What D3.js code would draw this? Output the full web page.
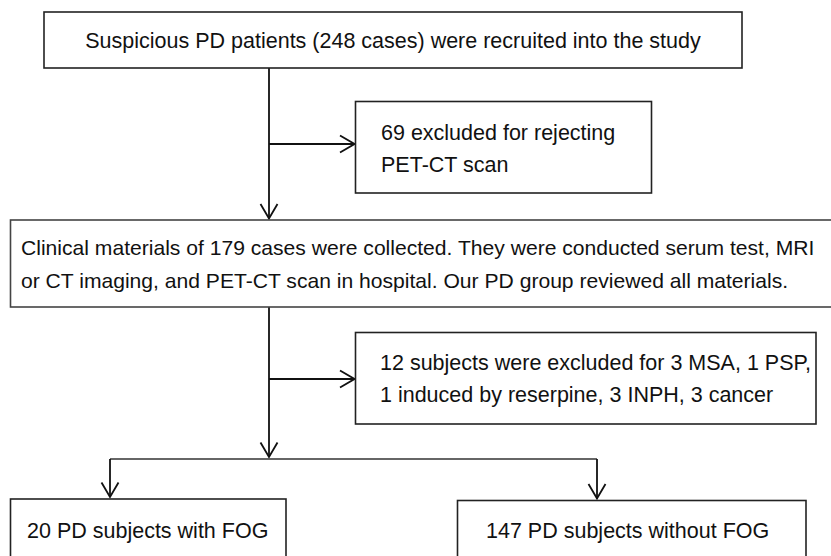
<!DOCTYPE html>
<html>
<head>
<meta charset="utf-8">
<script src="https://cdn.jsdelivr.net/npm/d3@7"></script>
<style>
  html, body { margin: 0; padding: 0; background: #fff; }
  svg { display: block; }
</style>
</head>
<body>
<svg id="chart" width="831" height="556"></svg>
<script>
// flowchart text
const stepTexts = [
    ["Suspicious PD patients (248 cases) were recruited into the study"],
    ["Clinical materials of 179 cases were collected. They were conducted serum test, MRI",
     "or CT imaging, and PET-CT scan in hospital. Our PD group reviewed all materials."]
]
const excludeTexts = [
    ["69 excluded for rejecting", "PET-CT scan"],
    ["12 subjects were excluded for 3 MSA, 1 PSP,", "1 induced by reserpine, 3 INPH, 3 cancer"]
]
const groupTexts = ["20 PD subjects with FOG", "147 PD subjects without FOG"]
const caseCounts = [248, 69, 179, 12, 20, 147]

// layout (pixels)
const FONT = "'Liberation Sans', Arial, sans-serif"
const FS = 21.5
const LINE_H = 32.5
const mainX = 269

const stepBoxes = [
    { x: 44, y: 12, w: 698, h: 56, anchor: 'middle', tx: 393, ty: 40, stroke: '#222', fs: 21.5 },
    { x: 10.5, y: 220, w: 840, h: 87, anchor: 'start', tx: 21, ty: 248, stroke: '#444', fs: 21.1 }
]
const excludeBoxes = [
    { x: 355.5, y: 101.5, w: 296, h: 91.5, tx: 381, ty: 132, arrowY: 144 },
    { x: 355.5, y: 332.5, w: 460.5, h: 91.5, tx: 380, ty: 362, arrowY: 379 }
]
const groupBoxes = [
    { x: 10.5, y: 499, w: 275.5, h: 75, tx: 27, ty: 530, cx: 110 },
    { x: 457.5, y: 500.5, w: 348.5, h: 75, tx: 486, ty: 530, cx: 597 }
]
const splitY = 459

const svg = d3.select('#chart')

// 箭头
svg.append('defs').append('marker')
    .attr('id', 'arrow')
    .attr('markerUnits', 'userSpaceOnUse')
    .attr('viewBox', '-1 -10 17 20')
    .attr('refX', 14.5)
    .attr('refY', 0)
    .attr('markerWidth', 17)
    .attr('markerHeight', 20)
    .attr('orient', 'auto')
    .append('path')
    .attr('d', 'M0,-8.5L14.5,0L0,8.5')
    .attr('fill', 'none')
    .attr('stroke', '#111')
    .attr('stroke-width', 1.8)

const line = d3.line()

const drawArrow = (pts, color, width, marker = true) => svg.append('path')
    .attr('d', line(pts))
    .attr('fill', 'none')
    .attr('stroke', color || '#111')
    .attr('stroke-width', width || 1.8)
    .attr('marker-end', marker ? 'url(#arrow)' : null)

// connectors
drawArrow([[mainX, stepBoxes[0].y + stepBoxes[0].h], [mainX, stepBoxes[1].y - 1.5]])
drawArrow([[mainX, stepBoxes[1].y + stepBoxes[1].h], [mainX, splitY - 2]])
excludeBoxes.forEach(b => drawArrow([[mainX, b.arrowY], [b.x - 1, b.arrowY]]))
drawArrow([[groupBoxes[0].cx, splitY], [groupBoxes[1].cx, splitY]], '#333', 1.4, false)
groupBoxes.forEach(b => drawArrow([[b.cx, splitY], [b.cx, b.y - 2]]))

const drawBox = (b, stroke) => svg.append('rect')
    .attr('x', b.x).attr('y', b.y)
    .attr('width', b.w).attr('height', b.h)
    .attr('fill', '#fff')
    .attr('stroke', stroke || '#222')
    .attr('stroke-width', 1.6)

const drawLines = (lines, x, y, anchor, fs) => svg.append('text')
    .attr('font-family', FONT)
    .attr('font-size', fs || FS)
    .attr('fill', '#111')
    .attr('text-anchor', anchor || 'start')
    .selectAll('tspan')
    .data(lines)
    .join('tspan')
    .attr('x', x)
    .attr('y', (d, i) => y + i * LINE_H)
    .attr('dy', '0.35em')
    .text(d => d)

stepBoxes.forEach((b, i) => {
    drawBox(b, b.stroke)
    drawLines(stepTexts[i], b.tx, b.ty, b.anchor, b.fs)
})
excludeBoxes.forEach((b, i) => {
    drawBox(b)
    drawLines(excludeTexts[i], b.tx, b.ty)
})
groupBoxes.forEach((b, i) => {
    drawBox(b)
    drawLines([groupTexts[i]], b.tx, b.ty)
})
</script>
</body>
</html>
